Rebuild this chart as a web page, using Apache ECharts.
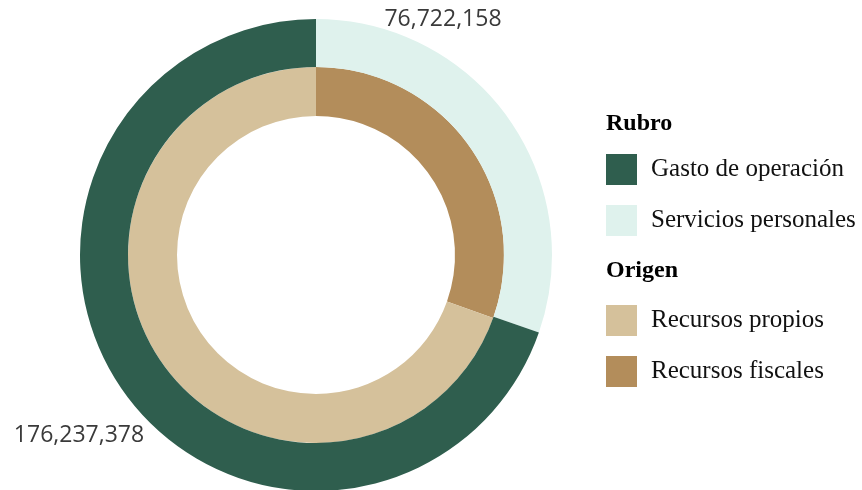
<!doctype html>
<html lang="es">
<head>
<meta charset="UTF-8">
<title>Rubro y Origen</title>
<style>
  html, body { margin: 0; padding: 0; background: #fff; }
  #main { width: 862px; height: 490px; }
</style>
</head>
<body>
<div id="main"></div>
<script src="https://cdn.jsdelivr.net/npm/echarts@6/dist/echarts.min.js"></script>
<script>
// datos
var rubroNames = ['Servicios personales', 'Gasto de operación'];
var rubroValues = [76722158, 176237378];
var origenNames = ['Recursos fiscales', 'Recursos propios'];
var origenValues = [77000000, 176000000];   // estimado por el ángulo
var rubroColors = ['#dff2ed', '#2f5e4e'];
var origenColors = ['#b38d5b', '#d5c19b'];

var chart = echarts.init(document.getElementById('main'));

function fmt(v) {
    return v.toString().replace(/\B(?=(\d{3})+(?!\d))/g, ',');
}

// donde van las etiquetas de valor (como en el original)
var labelPos = [[443, 19], [79, 435]];

var legendText = {
    fontFamily: 'Liberation Serif',
    fontSize: 25,
    color: '#111',
    padding: [0, 0, 0, 9]
};

var option = {
    animation: false,
    title: [
        {
            text: 'Rubro', left: 606, top: 112, padding: 0,
            textStyle: { fontFamily: 'Liberation Serif', fontSize: 24, fontWeight: 'bold', color: '#000' }
        },
        {
            text: 'Origen', left: 606, top: 259, padding: 0,
            textStyle: { fontFamily: 'Liberation Serif', fontSize: 24, fontWeight: 'bold', color: '#000' }
        }
    ],
    legend: [
        {
            data: ['Gasto de operación', 'Servicios personales'],
            orient: 'vertical', left: 606, top: 154, padding: 0,
            icon: 'rect', itemWidth: 31, itemHeight: 31, itemGap: 20,
            textStyle: legendText, selectedMode: false
        },
        {
            data: ['Recursos propios', 'Recursos fiscales'],
            orient: 'vertical', left: 606, top: 305, padding: 0,
            icon: 'rect', itemWidth: 31, itemHeight: 31, itemGap: 20,
            textStyle: legendText, selectedMode: false
        }
    ],
    series: [
        {
            name: 'Origen',
            type: 'pie',
            center: [316, 255],
            radius: [139, 188],
            startAngle: 90,
            clockwise: true,
            silent: true,
            label: { show: false },
            labelLine: { show: false },
            data: origenNames.map(function (n, i) {
                return { name: n, value: origenValues[i], itemStyle: { color: origenColors[i] } };
            })
        },
        {
            name: 'Rubro',
            type: 'pie',
            center: [316, 255],
            radius: [188, 236],
            startAngle: 90,
            clockwise: true,
            silent: true,
            label: {
                show: true,
                position: 'outside',
                overflow: 'none',
                formatter: function (p) { return fmt(p.value); },
                fontFamily: 'Open Sans',
                fontSize: 23,
                color: '#3a3a3a'
            },
            labelLine: { show: false },
            labelLayout: function (p) {
                return {
                    x: labelPos[p.dataIndex][0],
                    y: labelPos[p.dataIndex][1],
                    align: 'center',
                    verticalAlign: 'middle',
                    width: 200
                };
            },
            data: rubroNames.map(function (n, i) {
                return { name: n, value: rubroValues[i], itemStyle: { color: rubroColors[i] } };
            })
        }
    ]
};

chart.setOption(option);
</script>
</body>
</html>
